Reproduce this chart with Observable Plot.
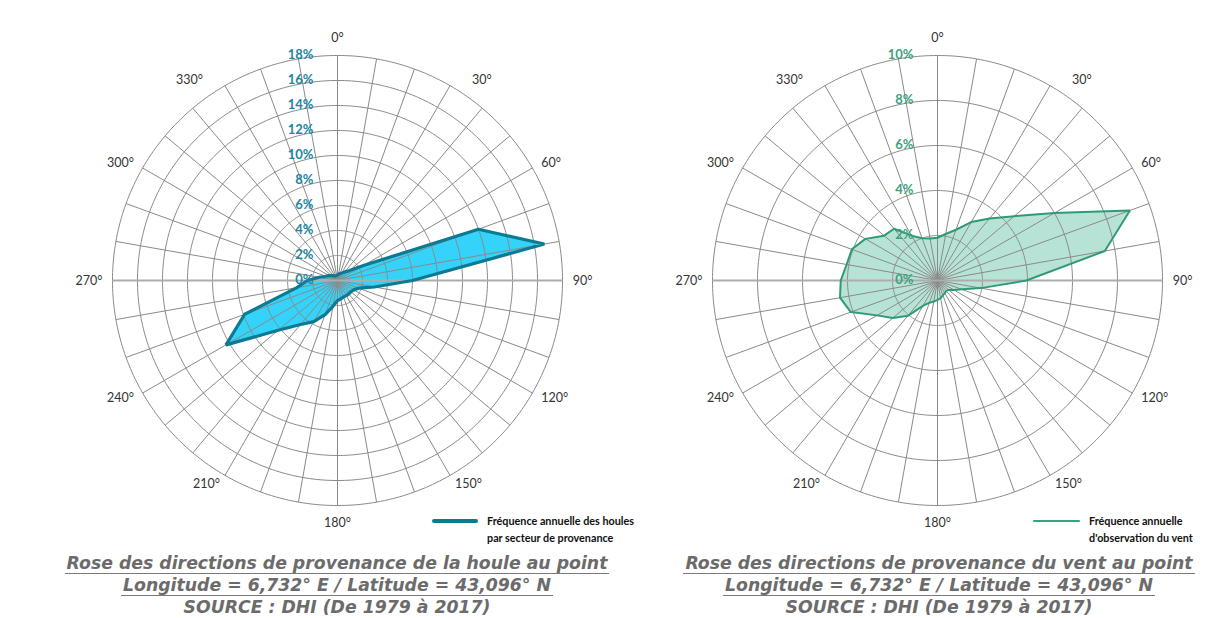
<!DOCTYPE html>
<html>
<head>
<meta charset="utf-8">
<script src="https://cdn.jsdelivr.net/npm/d3@7"></script>
<script src="https://cdn.jsdelivr.net/npm/@observablehq/plot@0.6"></script>
<style>
  body { margin: 0; background: #fff; }
  #wrap { position: relative; width: 1225px; height: 618px; overflow: hidden; font-family: Lato, "Open Sans", sans-serif; }
  .chart { position: absolute; top: 0; }
  .legend { position: absolute; font-family: Lato, sans-serif; font-weight: bold; font-size: 10.8px; color: #111; line-height: 17px; }
  .swatch { position: absolute; }
  .title { position: absolute; width: 640px; text-align: center; color: #6b6b6b; font-family: "DejaVu Sans", sans-serif; font-style: oblique; font-weight: bold; font-size: 17.3px; line-height: 22px; }
  .title span { display: inline-block; }
  .title .u { border-bottom: 1.5px solid #7a7a7a; padding: 0 2px; line-height: 20px; }
</style>
</head>
<body>
<div id="wrap"></div>
<script>
// ---- data ----
const angles = [0, 10, 20, 30, 40, 50, 60, 70, 80, 90, 100, 110, 120, 130, 140, 150, 160, 170,
                180, 190, 200, 210, 220, 230, 240, 250, 260, 270, 280, 290, 300, 310, 320, 330, 340, 350];
// Fréquence annuelle des houles (%) par secteur de provenance
const houleValues = [0.45, 0.5, 0.6, 0.7, 0.9, 1.2, 2.4, 12.0, 16.8, 6.0, 3.0, 1.8, 1.5, 1.4, 1.4, 1.4, 1.4, 1.5,
                     1.6, 2.1, 2.9, 3.8, 4.6, 6.2, 10.3, 7.9, 3.3, 2.4, 1.5, 1.0, 0.8, 0.6, 0.5, 0.4, 0.4, 0.4];
// Fréquence annuelle d'observation du vent (%)
const ventValues = [1.9, 2.1, 2.4, 3.0, 3.6, 4.45, 6.0, 9.1, 7.55, 3.95, 1.95, 1.15, 0.85, 0.65, 0.6, 0.65, 0.7, 0.8,
                    0.86, 0.95, 1.05, 1.3, 2.05, 2.6, 3.1, 4.1, 4.4, 4.3, 4.1, 4.05, 3.7, 3.1, 3.0, 2.3, 2.0, 1.9];
const houleTicks = [0, 2, 4, 6, 8, 10, 12, 14, 16, 18];
const ventTicks = [0, 2, 4, 6, 8, 10];
const angleLabelValues = [0, 30, 60, 90, 120, 150, 180, 210, 240, 270, 300, 330];

const lon = a => 180 - a;

function rose(values, ticks, o) {
  const maxR = ticks[ticks.length - 1];
  const pts = angles.map((a, i) => ({angle: a, value: values[i]}));
  const labR = maxR * 1.045;
  const rightL = angleLabelValues.filter(a => a > 0 && a < 180);
  const leftL = angleLabelValues.filter(a => a > 180);
  const diagR = rightL.filter(a => a === 30);
  const sideR = rightL.filter(a => a !== 30);
  const diagL = leftL.filter(a => a === 330);
  const sideL = leftL.filter(a => a !== 330);
  const gridStroke = "#8a8a8a";
  // frame: square of half-size 265 px around the centre, outer ring = 225 px
  const half = 265, outer = 225;
  return Plot.plot({
    width: 610, height: 560,
    marginLeft: 337 - half, marginRight: 610 - 337 - half, marginTop: 280 - half, marginBottom: 560 - 280 - half,
    style: {fontFamily: "Lato, sans-serif", background: "transparent", overflow: "visible"},
    projection: {
      type: "azimuthal-equidistant",
      rotate: [0, -90],
      domain: d3.geoCircle().center([0, 90]).radius(maxR * half / outer)()
    },
    marks: [
      // polygon fill
      Plot.area(pts, {x1: d => lon(d.angle), y1: d => 90 - d.value, x2: 0, y2: 90,
        curve: "linear-closed", fill: o.fill, stroke: "none"}),
      // rings
      Plot.geo(ticks.filter(t => t > 0), {
        geometry: r => d3.geoCircle().center([0, 90]).radius(r).precision(1)(),
        stroke: gridStroke, strokeWidth: 1, fill: "none"}),
      // spokes
      Plot.link(angles.filter(a => a !== 90 && a !== 270), {x1: lon, y1: 90 - maxR, x2: 0, y2: 90,
        stroke: gridStroke, strokeWidth: 1}),
      Plot.link(angles.filter(a => a === 90 || a === 270), {x1: lon, y1: 90 - maxR, x2: 0, y2: 90,
        stroke: "#adadad", strokeWidth: 2}),
      // polygon outline
      Plot.line(pts, {x: d => lon(d.angle), y: d => 90 - d.value, curve: "linear-closed",
        stroke: o.stroke, strokeWidth: o.strokeWidth, strokeLinejoin: "miter", fill: "none"}),
      // ring labels
      Plot.text(ticks, {x: 180, y: t => 90 - t, text: t => t + "%", textAnchor: "end", dx: -24, dy: -1,
        fill: o.tickColor, fontWeight: "bold", fontSize: 13}),
      // angle labels
      Plot.text(angleLabelValues.filter(a => a === 0 || a === 180), {x: lon, y: 90 - labR * 1.03,
        text: a => a + "°", textAnchor: "middle", fill: "#333", fontSize: 12.5}),
      Plot.text(sideR, {x: lon, y: 90 - labR, text: a => a + "°", textAnchor: "start", fill: "#333", fontSize: 12.5}),
      Plot.text(diagR, {x: lon, y: 90 - labR, text: a => a + "°", textAnchor: "start", dx: 17, dy: 3, fill: "#333", fontSize: 12.5}),
      Plot.text(sideL, {x: lon, y: 90 - labR, text: a => a + "°", textAnchor: "end", fill: "#333", fontSize: 12.5}),
      Plot.text(diagL, {x: lon, y: 90 - labR, text: a => a + "°", textAnchor: "end", dx: -17, dy: 3, fill: "#333", fontSize: 12.5})
    ]
  });
}

const wrap = document.getElementById("wrap");

const c1 = rose(houleValues, houleTicks, {fill: "#35d3f9", stroke: "#0b7a93", strokeWidth: 3.2, tickColor: "#1b86a3"});
c1.classList.add("chart"); c1.style.left = "0px";
wrap.appendChild(c1);

const c2 = rose(ventValues, ventTicks, {fill: "#b7e3d6", stroke: "#2f9b75", strokeWidth: 2, tickColor: "#3ba27d"});
c2.classList.add("chart"); c2.style.left = "600px";
wrap.appendChild(c2);

function legend(x, lineX1, lineX2, color, width, lines) {
  const sw = document.createElement("div");
  sw.className = "swatch";
  sw.style.left = lineX1 + "px";
  sw.style.width = (lineX2 - lineX1) + "px";
  sw.style.top = (521 - width / 2) + "px";
  sw.style.height = width + "px";
  sw.style.background = color;
  sw.style.borderRadius = (width / 2) + "px";
  wrap.appendChild(sw);
  const lg = document.createElement("div");
  lg.className = "legend";
  lg.style.left = x + "px";
  lg.style.top = "512px";
  lg.innerHTML = lines.join("<br>");
  wrap.appendChild(lg);
}
legend(487, 432, 478, "#0b7a93", 4, ["Fréquence annuelle des houles", "par secteur de provenance"]);
legend(1089, 1033, 1080, "#3ba27d", 2, ["Fréquence annuelle", "d'observation du vent"]);

function title(cx, l1, l2, l3) {
  const t = document.createElement("div");
  t.className = "title";
  t.style.left = (cx - 320) + "px";
  t.style.top = "552px";
  t.innerHTML = `<span class="u">${l1}</span><br><span class="u">${l2}</span><br><span>${l3}</span>`;
  wrap.appendChild(t);
}
title(337, "Rose des directions de provenance de la houle au point",
      "Longitude = 6,732° E / Latitude = 43,096° N", "SOURCE : DHI (De 1979 à 2017)");
title(939, "Rose des directions de provenance du vent au point",
      "Longitude = 6,732° E / Latitude = 43,096° N", "SOURCE : DHI (De 1979 à 2017)");
</script>
</body>
</html>
